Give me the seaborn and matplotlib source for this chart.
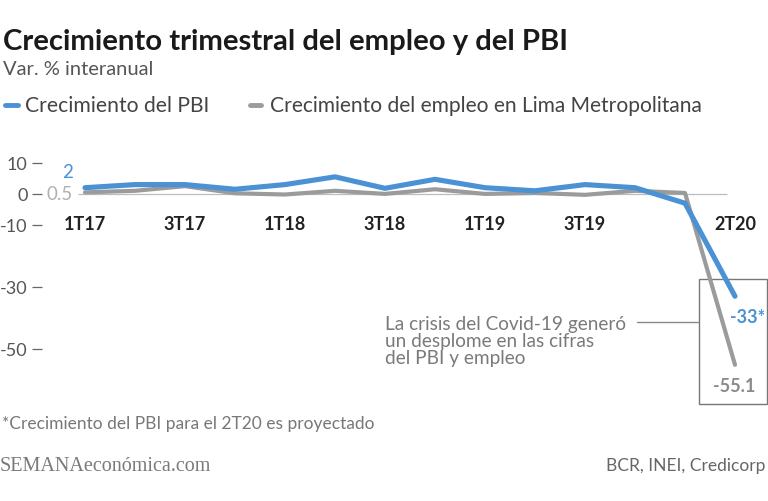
import matplotlib
matplotlib.use("Agg")
import matplotlib.pyplot as plt
from matplotlib.lines import Line2D
from matplotlib.patches import Rectangle
import seaborn as sns
import pandas as pd

sns.set_theme(style="white")
plt.rcParams["font.family"] = ["Lato", "DejaVu Sans"]
plt.rcParams["axes.unicode_minus"] = False

# ---- data ----
trimestres = ["1T17", "2T17", "3T17", "4T17", "1T18", "2T18", "3T18", "4T18",
              "1T19", "2T19", "3T19", "4T19", "1T20", "2T20"]
pbi = [2.0, 3.0, 3.0, 1.5, 3.0, 5.5, 1.8, 4.7, 2.0, 1.0, 3.0, 2.0, -3.0, -33.0]
empleo = [0.5, 1.0, 2.5, 0.2, -0.2, 1.0, 0.0, 1.5, 0.0, 0.3, -0.3, 1.0, 0.3, -55.1]
etiquetas_x = ["1T17", "3T17", "1T18", "3T18", "1T19", "3T19", "2T20"]
yticks = [10, 0, -10, -30, -50]
serie_pbi = "Crecimiento del PBI"
serie_emp = "Crecimiento del empleo en Lima Metropolitana"

AZUL = "#4A92D4"
GRIS = "#9B9B9B"
W, H = 768, 502

df = pd.DataFrame({
    "idx": list(range(len(trimestres))) * 2,
    "valor": empleo + pbi,
    "serie": [serie_emp] * len(trimestres) + [serie_pbi] * len(trimestres),
})

fig = plt.figure(figsize=(W / 100, H / 100), dpi=100)
fig.patch.set_facecolor("white")

def fx(px):
    return px / W

def fy(py):
    return 1 - py / H

ax = fig.add_axes([fx(42), fy(410), fx(768) - fx(42), fy(140) - fy(410)])
ax.set_facecolor("white")

# zero line
ax.plot([-0.15, 12.84], [0, 0], color="#BDBDBD", lw=0.9, zorder=1, solid_capstyle="butt")

sns.lineplot(data=df, x="idx", y="valor", hue="serie",
             hue_order=[serie_emp, serie_pbi],
             palette={serie_emp: GRIS, serie_pbi: AZUL},
             legend=False, ax=ax, zorder=3)
for ln in ax.lines[1:]:
    ln.set_solid_capstyle("round")
    ln.set_solid_joinstyle("round")
ax.lines[1].set_linewidth(3.0)
ax.lines[2].set_linewidth(3.7)

ax.set_xlim(-0.86, 13.66)
ax.set_ylim(-69.35, 17.7)
for s in ax.spines.values():
    s.set_visible(False)
ax.set_xticks([])
ax.set_yticks(yticks)
ax.set_yticklabels([str(v) for v in yticks])
ax.tick_params(axis="y", left=True, length=7, width=0.9, color="#666666",
               pad=3.5, labelsize=13, labelcolor="#555555")
ax.set_xlabel("")
ax.set_ylabel("")

# x category labels inside plot
pos = {t: i for i, t in enumerate(trimestres)}
for t in etiquetas_x:
    ax.text(pos[t], -9.7, t, ha="center", va="center", fontsize=13,
            fontweight="bold", color="#222222")

# value labels
ax.text(-0.34, 7.1, "2", ha="center", va="center", fontsize=13.5, color=AZUL)
ax.text(-0.5, 0, "0.5", ha="center", va="center", fontsize=13.5, color="#B0B0B0")
ax.text(13.26, -39.4, "-33*", ha="center", va="center", fontsize=13, color=AZUL,
        fontweight="bold")
ax.text(12.98, -61.9, "-55.1", ha="center", va="center", fontsize=13, color="#8A8A8A",
        fontweight="bold")

# annotation box and leader line
ax.add_patch(Rectangle((12.28, -67.7), 1.36, 40.3, fill=False, edgecolor="#777777",
                       lw=1.0, clip_on=False, zorder=2))
ax.plot([11.04, 12.28], [-41.3, -41.3], color="#888888", lw=1.0, clip_on=False)
ax.text(6.0, -39.2, "La crisis del Covid-19 generó\nun desplome en las cifras\ndel PBI y empleo",
        ha="left", va="top", fontsize=13.7, color="#7A7A7A", linespacing=0.98)

# title, subtitle
fig.text(fx(3), fy(50), "Crecimiento trimestral del empleo y del PBI", ha="left",
         va="baseline", fontsize=21.1, fontweight="bold", color="#1A1A1A")
fig.text(fx(3), fy(75), "Var. % interanual", ha="left", va="baseline",
         fontsize=14.5, color="#555555")

# legend
fig.add_artist(Line2D([fx(5), fx(18)], [fy(106), fy(106)], color=AZUL, lw=3.5,
                      solid_capstyle="round", transform=fig.transFigure))
fig.text(fx(25), fy(112), serie_pbi, ha="left", va="baseline", fontsize=15.2,
         color="#444444")
fig.add_artist(Line2D([fx(250), fx(261)], [fy(106), fy(106)], color=GRIS, lw=3.5,
                      solid_capstyle="round", transform=fig.transFigure))
fig.text(fx(270), fy(112), serie_emp, ha="left", va="baseline", fontsize=15.1,
         color="#444444")

# footer
fig.text(fx(2), fy(429), "*Crecimiento del PBI para el 2T20 es proyectado", ha="left",
         va="baseline", fontsize=12.5, color="#777777")
fig.text(fx(0), fy(471), "SEMANAeconómica.com", ha="left", va="baseline",
         fontsize=14.5, color="#7A7A7A", family=["Liberation Serif", "DejaVu Serif"])
fig.text(fx(765), fy(471), "BCR, INEI, Credicorp", ha="right", va="baseline",
         fontsize=12.5, color="#666666")

fig.savefig("out.png", dpi=100, facecolor="white")
